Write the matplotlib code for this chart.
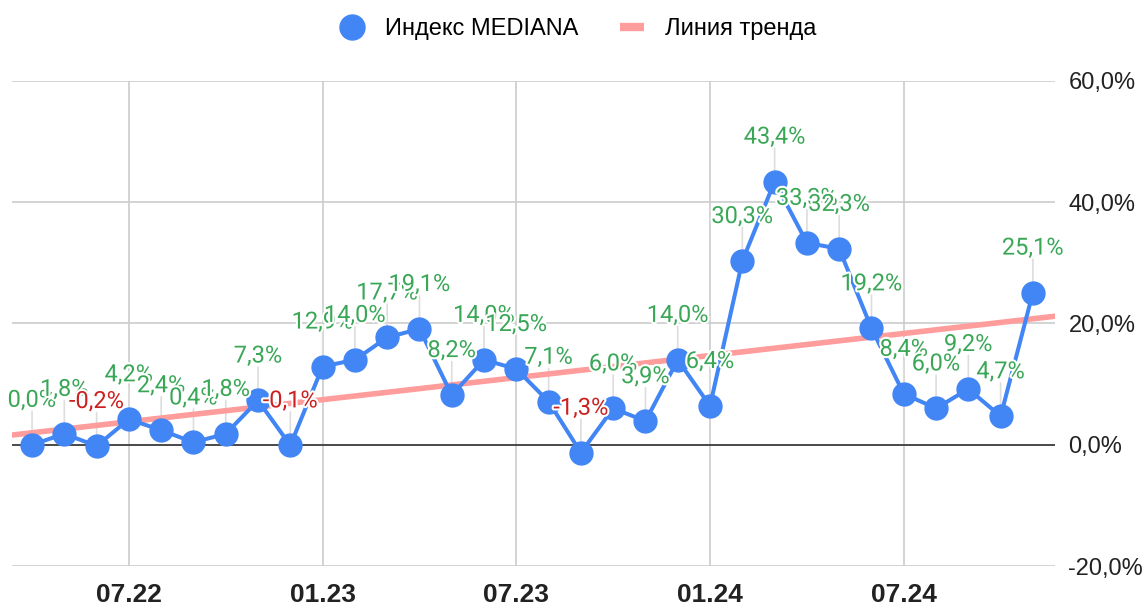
import matplotlib.pyplot as plt
import matplotlib.patheffects as pe
import numpy as np

plt.rcParams['font.family'] = ['Roboto', 'DejaVu Sans']

# Monthly index values, 04.22 .. 11.24
months = list(range(32))
values = [0.0, 1.8, -0.2, 4.2, 2.4, 0.4, 1.8, 7.3, -0.1, 12.9, 14.0, 17.7, 19.1, 8.2,
          14.0, 12.5, 7.1, -1.3, 6.0, 3.9, 14.0, 6.4, 30.3, 43.4, 33.3, 32.3, 19.2,
          8.4, 6.0, 9.2, 4.7, 25.1]
tick_pos = [3, 9, 15, 21, 27]
tick_labels = ['07.22', '01.23', '07.23', '01.24', '07.24']
y_ticks = [-20, 0, 20, 40, 60]

blue = '#4285f4'
green = '#3aa757'
red = '#cc1f1f'
pink = '#ff9c9c'

fig = plt.figure(figsize=(11.45, 6.08), dpi=100)
ax = fig.add_axes([0.0105, 0.069, 0.9105, 0.798])

# trend line (least squares)
k, b = np.polyfit(months, values, 1)
xl = np.array([-0.62, 31.67])
ax.plot(xl, k * xl + b, color=pink, lw=4, zorder=2)

ax.plot(months, values, color=blue, lw=2.9, marker='o', markersize=16.5, zorder=4)

# data labels with stems
for m, v in zip(months, values):
    ax.annotate('', xy=(m, v), xytext=(0, 24), textcoords='offset points',
                arrowprops=dict(arrowstyle='-', color='#dddddd', lw=1.2,
                                shrinkA=0, shrinkB=0), zorder=1)
    txt = f'{v:.1f}%'.replace('.', ',')
    ax.annotate(txt, xy=(m, v), xytext=(0, 32), textcoords='offset points',
                ha='center', va='center', fontsize=17,
                color=red if v < 0 else green, zorder=6,
                path_effects=[pe.withStroke(linewidth=3, foreground='white')])

ax.axhline(0, color='#333333', lw=1.2, zorder=3)
ax.set_xlim(-0.62, 31.67)
ax.set_ylim(-20, 60)
ax.set_yticks(y_ticks)
ax.set_yticklabels([f'{t:.1f}%'.replace('.', ',') for t in y_ticks],
                   fontsize=17, family='Liberation Sans', color='#222222')
ax.yaxis.tick_right()
ax.set_xticks(tick_pos)
ax.set_xticklabels(tick_labels, fontsize=19, fontweight='bold',
                   family='Liberation Sans', color='#222222')
ax.tick_params(length=0)
ax.tick_params(axis='x', pad=12)
ax.tick_params(axis='y', pad=10)
ax.grid(True, color='#cccccc', lw=1.2, zorder=0)
ax.set_axisbelow(True)
for s in ax.spines.values():
    s.set_visible(False)

fig.legend(loc='center', bbox_to_anchor=(0.505, 0.952), ncol=2, frameon=False,
           prop={'family': 'Liberation Sans', 'size': 17},
           handlelength=1.0, handletextpad=0.9, columnspacing=1.8,
           handles=[plt.Line2D([], [], color=blue, marker='o', ls='', markersize=18),
                    plt.Line2D([], [], color=pink, lw=6, solid_capstyle='butt')],
           labels=['Индекс MEDIANA', 'Линия тренда'])

plt.savefig('out.png', dpi=100)
